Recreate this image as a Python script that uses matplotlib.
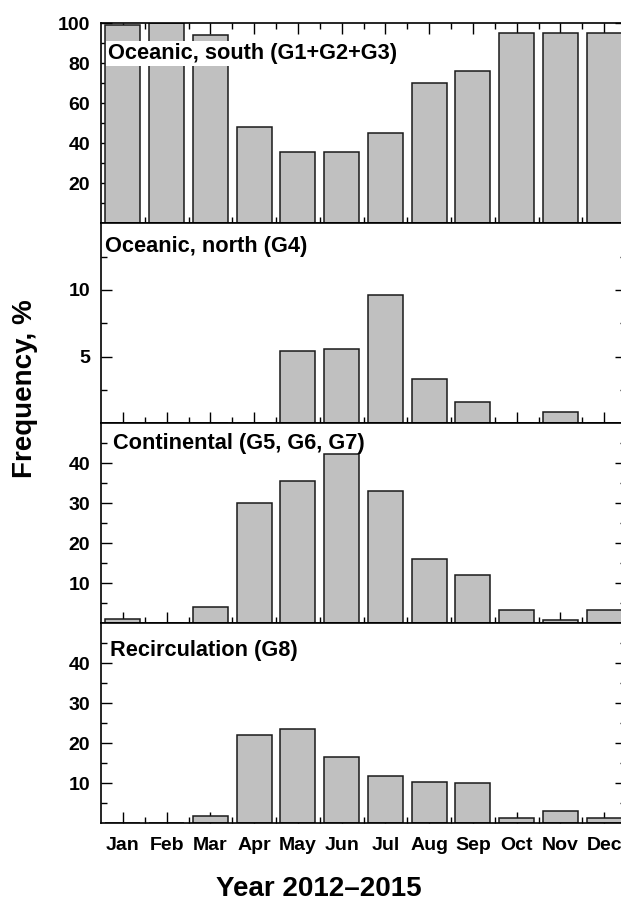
import matplotlib

matplotlib.use("Agg")
import matplotlib.pyplot as plt
import numpy as np
from matplotlib.ticker import FixedLocator

plt.rcParams["font.family"] = ["Liberation Sans", "DejaVu Sans"]
plt.rcParams["font.weight"] = "bold"

months = ["Jan", "Feb", "Mar", "Apr", "May", "Jun",
          "Jul", "Aug", "Sep", "Oct", "Nov", "Dec"]

# frequency, % per month
south = [99, 100, 94, 48, 35.5, 35.5, 45, 70, 76, 95, 95, 95]
north = [0, 0, 0, 0, 5.4, 5.6, 9.65, 3.3, 1.6, 0, 0.85, 0]
continental = [1.0, 0, 4.2, 30, 35.5, 42.2, 33.1, 16.2, 12.1, 3.3, 0.8, 3.3]
recirc = [0, 0, 1.9, 22.0, 23.5, 16.5, 11.9, 10.3, 10.2, 1.4, 3.1, 1.4]

titles = ["Oceanic, south (G1+G2+G3)", "Oceanic, north (G4)",
          "Continental (G5, G6, G7)", "Recirculation (G8)"]
series = [south, north, continental, recirc]
ylims = [100, 15, 50, 50]
major = [[20, 40, 60, 80, 100], [5, 10], [10, 20, 30, 40], [10, 20, 30, 40]]
minor = [[10, 30, 50, 70, 90], [2.5, 7.5, 12.5],
         [5, 15, 25, 35, 45], [5, 15, 25, 35, 45]]
title_pos = [(0.013, 0.848), (0.008, 0.885), (0.022, 0.90), (0.018, 0.865)]

W, H = 621, 901
fig = plt.figure(figsize=(W / 100, H / 100), dpi=100)

x = np.arange(1, 13)
left, right = 101, 626
top = 23.3
ph = 200

for i, vals in enumerate(series):
    y0 = top + i * ph
    ax = fig.add_axes([left / W, 1 - (y0 + ph) / H, (right - left) / W, ph / H])
    ax.bar(x, vals, width=0.8, color="#c0c0c0", edgecolor="#1a1a1a", linewidth=1.1)
    ax.set_axisbelow(True)
    ax.set_xlim(0.5, 12.5)
    ax.set_ylim(0, ylims[i])
    ax.yaxis.set_major_locator(FixedLocator(major[i]))
    ax.yaxis.set_minor_locator(FixedLocator(minor[i]))
    ax.set_xticks(x)
    ax.xaxis.set_minor_locator(FixedLocator(x[:-1] + 0.5))
    ax.tick_params(which="both", direction="in", right=True, top=(i == 0),
                   width=1.0, labelsize=14)
    ax.tick_params(which="major", length=8)
    ax.tick_params(which="minor", length=4.3)
    ax.tick_params(axis="y", pad=8)
    ax.tick_params(axis="x", pad=10)
    for sp in ax.spines.values():
        sp.set_linewidth(1.2)
    if i < 3:
        ax.set_xticklabels([])
    else:
        ax.set_xticklabels(months, fontweight="bold")
    for lab in ax.get_yticklabels():
        lab.set_fontweight("bold")
    tx, ty = title_pos[i]
    t = ax.text(tx, ty, titles[i], transform=ax.transAxes, fontsize=15.7,
                fontweight="bold", ha="left", va="center")
    if i == 0:
        t.set_bbox(dict(facecolor="white", edgecolor="none", pad=1.5))

fig.text(25 / W, 1 - 389 / H, "Frequency, %", rotation=90, fontsize=20,
         fontweight="bold", ha="center", va="center")
fig.text(319 / W, 1 - 889 / H, "Year 2012\u20132015", fontsize=20,
         fontweight="bold", ha="center", va="center")

fig.savefig("out.png", dpi=100)
plt.close(fig)
